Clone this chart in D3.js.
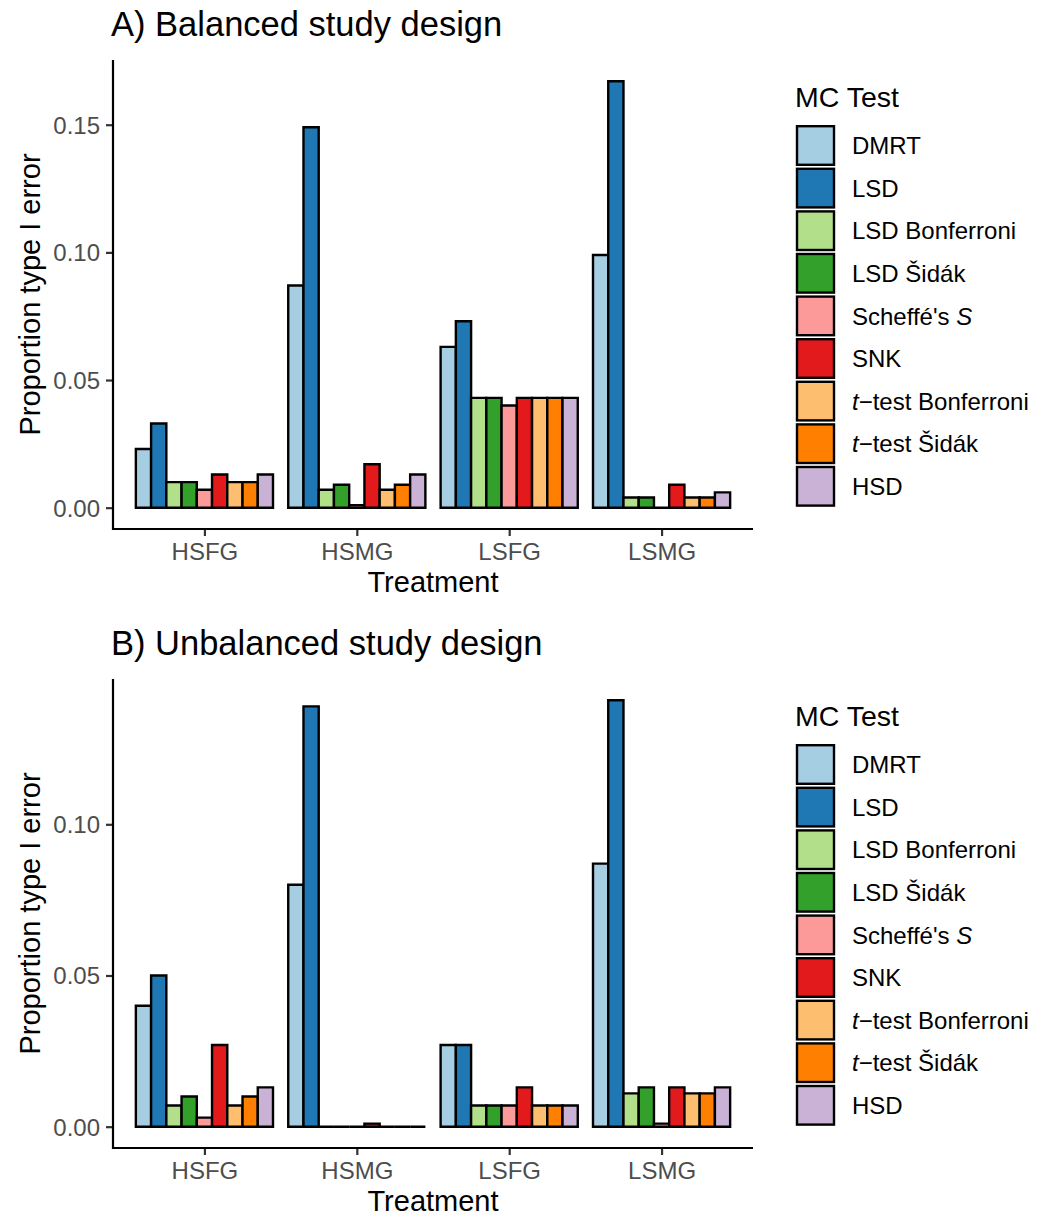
<!DOCTYPE html>
<html><head><meta charset="utf-8">
<script src="https://cdn.jsdelivr.net/npm/d3@7"></script>
<style>body{margin:0;background:#fff}</style>
</head><body>
<svg id="chart" width="1053" height="1218"></svg>
<script>
const treatments = ["HSFG","HSMG","LSFG","LSMG"];
const tests = ["DMRT","LSD","LSD Bonferroni","LSD Šidák","Scheffé's S","SNK","t-test Bonferroni","t-test Šidák","HSD"];
const colors = ["#A6CEE3","#1F78B4","#B2DF8A","#33A02C","#FB9A99","#E31A1C","#FDBF6F","#FF7F00","#CAB2D6"];
// values per treatment, in test order
const balanced = {
  HSFG: [0.023,0.033,0.010,0.010,0.007,0.013,0.010,0.010,0.013],
  HSMG: [0.087,0.149,0.007,0.009,0.001,0.017,0.007,0.009,0.013],
  LSFG: [0.063,0.073,0.043,0.043,0.040,0.043,0.043,0.043,0.043],
  LSMG: [0.099,0.167,0.004,0.004,0.000,0.009,0.004,0.004,0.006]
};
const unbalanced = {
  HSFG: [0.040,0.050,0.007,0.010,0.003,0.027,0.007,0.010,0.013],
  HSMG: [0.080,0.139,0.000,0.000,0.000,0.001,0.000,0.000,0.000],
  LSFG: [0.027,0.027,0.007,0.007,0.007,0.013,0.007,0.007,0.007],
  LSMG: [0.087,0.141,0.011,0.013,0.001,0.013,0.011,0.011,0.013]
};
const ticksA = [0, 0.05, 0.10, 0.15];
const ticksB = [0, 0.05, 0.10];
const panels = [
  {title:"A) Balanced study design", data:balanced, ticks:ticksA, dy:0},
  {title:"B) Unbalanced study design", data:unbalanced, ticks:ticksB, dy:619}
];

const svg = d3.select("#chart");
const FONT = "'Liberation Sans', Arial, Helvetica, sans-serif";
const L = 113, R = 753, T = 60, B = 529;

function legendLabel(sel, name){
  if (name.startsWith("t-test")) {
    sel.append("tspan").attr("font-style","italic").text("t");
    sel.append("tspan").text("\u2212" + name.slice(2));
  } else if (name === "Scheffé's S") {
    sel.append("tspan").text("Scheffé's ");
    sel.append("tspan").attr("font-style","italic").text("S");
  } else sel.text(name);
}

panels.forEach(p => {
  const g = svg.append("g").attr("transform", `translate(0,${p.dy})`);
  const n = treatments.length;
  const unit = (R - L) / (n - 1 + 1.2);
  const xc = d3.scalePoint().domain(treatments).range([L + 0.6*unit, R - 0.6*unit]);
  const inner = d3.scaleBand().domain(tests).range([-0.45*unit, 0.45*unit]).padding(0);
  const all = treatments.flatMap(t => p.data[t]);
  const mx = d3.max(all);
  const y = d3.scaleLinear().domain([-0.05*mx, mx*1.05]).range([B, T]);

  treatments.forEach(t => {
    p.data[t].forEach((v, i) => {
      const x0 = xc(t) + inner(tests[i]);
      const x1 = x0 + inner.bandwidth();
      const y0 = y(0), y1 = y(v);
      g.append("path")
        .attr("d", `M${x0},${y0}H${x1}V${y1}H${x0}Z`)
        .attr("fill", colors[i]).attr("stroke", "#000").attr("stroke-width", 2.4)
        .attr("stroke-linejoin","miter");
    });
  });

  const yAxis = d3.axisLeft(y).tickValues(p.ticks).tickFormat(d3.format(".2f")).tickSize(7).tickPadding(6);
  const ya = g.append("g").attr("transform", `translate(${L},0)`).call(yAxis);
  ya.select(".domain").remove();
  g.append("line").attr("x1", L).attr("x2", L).attr("y1", T).attr("y2", B + 1).attr("stroke","#000").attr("stroke-width",2.2);
  const xAxis = d3.axisBottom(xc).tickSize(7).tickPadding(7);
  const xa = g.append("g").attr("transform", `translate(0,${B})`).call(xAxis);
  xa.select(".domain").remove();
  g.append("line").attr("x1", L - 1).attr("x2", R).attr("y1", B).attr("y2", B).attr("stroke","#000").attr("stroke-width",2.2);
  [ya, xa].forEach(a => {
    a.selectAll(".tick line").attr("stroke","#333").attr("stroke-width",2.2);
    a.selectAll(".tick text").attr("fill","#4d4d4d").style("font-family",FONT).style("font-size","24px");
  });
  xa.selectAll(".tick text").attr("dy","0.71em");
  ya.selectAll(".tick text").attr("dy","0.35em");

  g.append("text").attr("x", 111).attr("y", 36).text(p.title)
    .style("font-family",FONT).style("font-size","34.5px").attr("fill","#000");
  g.append("text").attr("x", (L+R)/2).attr("y", 592).attr("text-anchor","middle").text("Treatment")
    .style("font-family",FONT).style("font-size","29px").attr("fill","#000");
  g.append("text").attr("transform", `translate(40,${(T+B)/2}) rotate(-90)`).attr("text-anchor","middle")
    .text("Proportion type I error").style("font-family",FONT).style("font-size","29px").attr("fill","#000");

  const lg = g.append("g");
  lg.append("text").attr("x", 795).attr("y", 107).text("MC Test")
    .style("font-family",FONT).style("font-size","28.5px").attr("fill","#000");
  const ly = d3.scalePoint().domain(tests).range([145.5, 145.5 + 42.6*8]);
  tests.forEach((t, i) => {
    const cy = ly(t);
    lg.append("rect").attr("x", 797).attr("y", cy - 19.3).attr("width", 37).attr("height", 38.6)
      .attr("fill", colors[i]).attr("stroke","#000").attr("stroke-width",2.4);
    const tx = lg.append("text").attr("x", 852).attr("y", cy + 8.6)
      .style("font-family",FONT).style("font-size","24px").attr("fill","#000");
    legendLabel(tx, t);
  });
});
</script>
</body></html>
